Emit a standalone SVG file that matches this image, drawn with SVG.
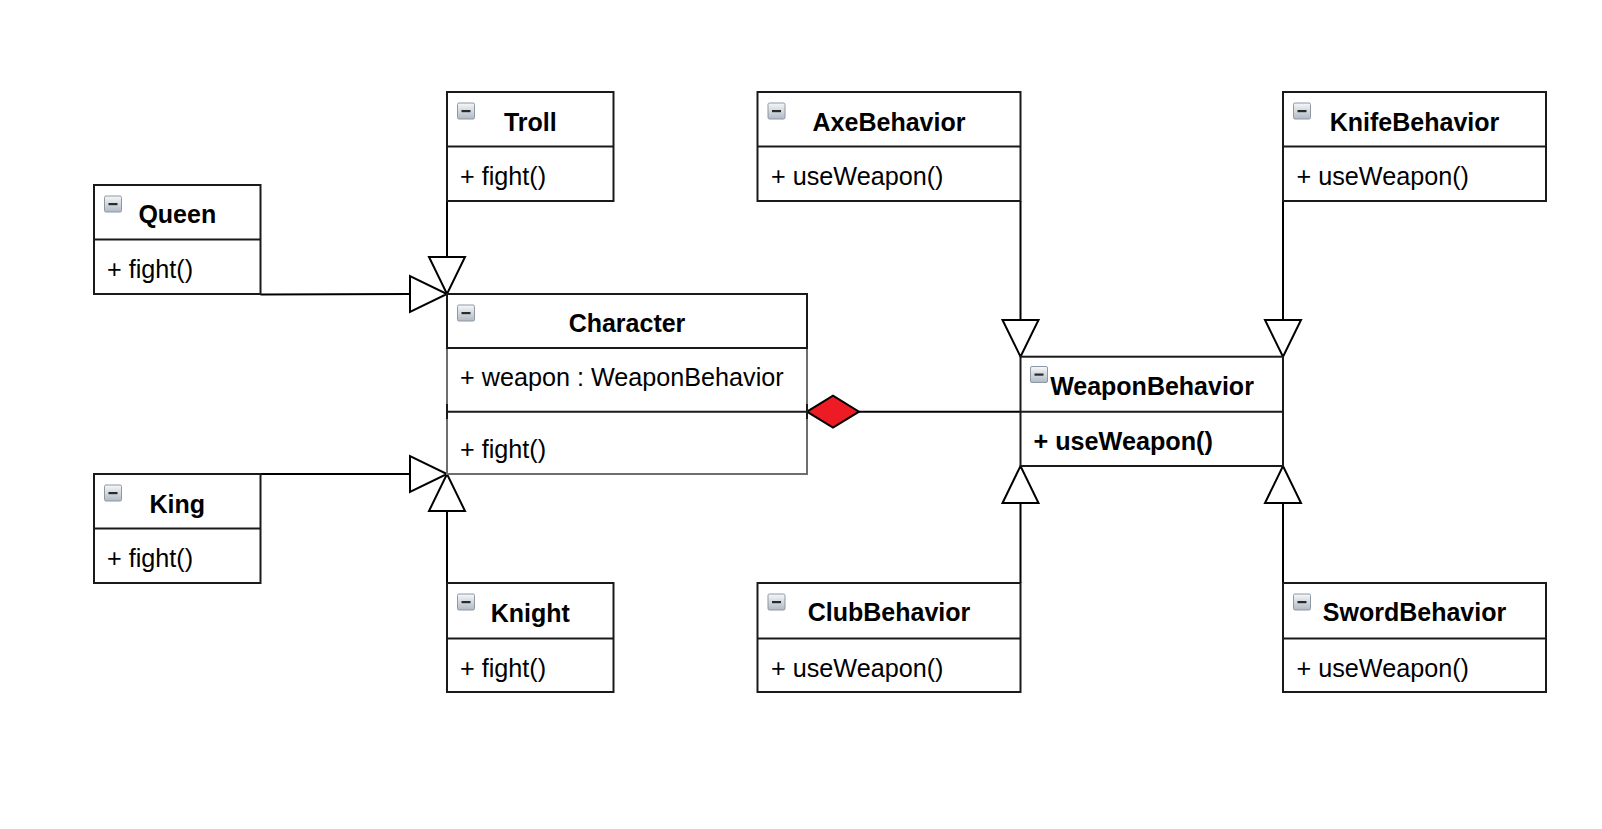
<svg xmlns="http://www.w3.org/2000/svg" width="1602" height="829" viewBox="0 0 1602 829">
<style>
  .box { fill: #ffffff; stroke: #1a1a1a; stroke-width: 2; }
  .sep { stroke: #1a1a1a; stroke-width: 2; }
  .title { font-family: "Liberation Sans", Arial, sans-serif; font-size: 25px; font-weight: bold; fill: #000; text-anchor: middle; }
  .member { font-family: "Liberation Sans", Arial, sans-serif; font-size: 25.2px; fill: #000; }
  .bmember { font-family: "Liberation Sans", Arial, sans-serif; font-size: 25.2px; font-weight: bold; fill: #000; }
  .edge { fill: none; stroke: #000; stroke-width: 2; }
  .tri { fill: #ffffff; stroke: #000; stroke-width: 2; stroke-linejoin: miter; }
  .gray { fill: #ffffff; stroke: #6e6e6e; stroke-width: 2; }
</style>
<defs>
  <linearGradient id="ig" x1="0" y1="0" x2="0" y2="1">
    <stop offset="0" stop-color="#f6f8fa"/>
    <stop offset="1" stop-color="#b0b9c3"/>
  </linearGradient>
  <g id="icon">
    <rect x="0.5" y="0.5" width="17" height="16" rx="1.5" fill="url(#ig)" stroke="#8c98a4" stroke-width="1"/>
    <rect x="4.5" y="7.5" width="9" height="2.2" fill="#2a2a2a"/>
  </g>
</defs>
<rect width="1602" height="829" fill="#ffffff"/>

<g id="connectors">
  <line class="edge" x1="447" y1="201" x2="447" y2="257"/>
  <polygon class="tri" points="429,257 465,257 447,294"/>
  <line class="edge" x1="260.5" y1="294.5" x2="410" y2="294"/>
  <polygon class="tri" points="410,276 410,312 447,294"/>
  <line class="edge" x1="260.5" y1="474" x2="410" y2="474"/>
  <polygon class="tri" points="410,456 410,492 447,474"/>
  <line class="edge" x1="447" y1="583" x2="447" y2="511"/>
  <polygon class="tri" points="429,511 465,511 447,474"/>
  <line class="edge" x1="1020.5" y1="201" x2="1020.5" y2="320"/>
  <polygon class="tri" points="1002.5,320 1038.5,320 1020.5,356.7"/>
  <line class="edge" x1="1283" y1="201" x2="1283" y2="320"/>
  <polygon class="tri" points="1265,320 1301,320 1283,356.7"/>
  <line class="edge" x1="1020.5" y1="583" x2="1020.5" y2="503"/>
  <polygon class="tri" points="1002.5,503 1038.5,503 1020.5,466"/>
  <line class="edge" x1="1283" y1="583" x2="1283" y2="503"/>
  <polygon class="tri" points="1265,503 1301,503 1283,466"/>
  <line class="edge" x1="859" y1="411.7" x2="1020.5" y2="411.7"/>
  <polygon points="807,411.7 833,395.7 859,411.7 833,427.7" fill="#ed1c24" stroke="#000" stroke-width="2"/>
</g>

<g id="Troll">
  <rect class="box" x="447" y="92" width="166.5" height="109"/>
  <line class="sep" x1="447" y1="146.5" x2="613.5" y2="146.5"/>
  <use href="#icon" x="457" y="102.5"/>
  <text class="title" x="530.3" y="130.7">Troll</text>
  <text class="member" x="460" y="185">+ fight()</text>
</g>

<g id="Queen">
  <rect class="box" x="94" y="185" width="166.5" height="109"/>
  <line class="sep" x1="94" y1="239.5" x2="260.5" y2="239.5"/>
  <use href="#icon" x="104" y="195.5"/>
  <text class="title" x="177.3" y="223">Queen</text>
  <text class="member" x="107" y="278">+ fight()</text>
</g>

<g id="Character">
  <rect class="gray" x="447" y="294" width="360" height="180"/>
  <rect class="box" x="447" y="294" width="360" height="54"/>
  <line class="sep" x1="447" y1="411.7" x2="807" y2="411.7"/>
  <line class="sep" x1="447" y1="404" x2="447" y2="419"/>
  <line class="sep" x1="807" y1="404" x2="807" y2="419"/>
  <use href="#icon" x="457" y="304.5"/>
  <text class="title" x="627" y="332.3">Character</text>
  <text class="member" x="460" y="386">+ weapon : WeaponBehavior</text>
  <text class="member" x="460" y="458.3">+ fight()</text>
</g>

<g id="King">
  <rect class="box" x="94" y="474" width="166.5" height="109"/>
  <line class="sep" x1="94" y1="528.5" x2="260.5" y2="528.5"/>
  <use href="#icon" x="104" y="484.5"/>
  <text class="title" x="177.3" y="512.5">King</text>
  <text class="member" x="107" y="567">+ fight()</text>
</g>

<g id="Knight">
  <rect class="box" x="447" y="583" width="166.5" height="109"/>
  <line class="sep" x1="447" y1="638.5" x2="613.5" y2="638.5"/>
  <use href="#icon" x="457" y="593.5"/>
  <text class="title" x="530.3" y="621.5">Knight</text>
  <text class="member" x="460" y="677">+ fight()</text>
</g>

<g id="AxeBehavior">
  <rect class="box" x="757.5" y="92" width="263" height="109"/>
  <line class="sep" x1="757.5" y1="146.5" x2="1020.5" y2="146.5"/>
  <use href="#icon" x="767.5" y="102.5"/>
  <text class="title" x="889" y="130.7">AxeBehavior</text>
  <text class="member" x="771" y="185">+ useWeapon()</text>
</g>

<g id="KnifeBehavior">
  <rect class="box" x="1283" y="92" width="263" height="109"/>
  <line class="sep" x1="1283" y1="146.5" x2="1546" y2="146.5"/>
  <use href="#icon" x="1293" y="102.5"/>
  <text class="title" x="1414.5" y="130.7">KnifeBehavior</text>
  <text class="member" x="1296.5" y="185">+ useWeapon()</text>
</g>

<g id="WeaponBehavior">
  <rect class="box" x="1020.5" y="356.7" width="262.5" height="109.3"/>
  <line class="sep" x1="1020.5" y1="411.7" x2="1283" y2="411.7"/>
  <use href="#icon" x="1030" y="366"/>
  <text class="title" x="1152" y="394.5">WeaponBehavior</text>
  <text class="bmember" x="1033.5" y="450">+ useWeapon()</text>
</g>

<g id="ClubBehavior">
  <rect class="box" x="757.5" y="583" width="263" height="109"/>
  <line class="sep" x1="757.5" y1="638.5" x2="1020.5" y2="638.5"/>
  <use href="#icon" x="767.5" y="593.5"/>
  <text class="title" x="889" y="621">ClubBehavior</text>
  <text class="member" x="771" y="677">+ useWeapon()</text>
</g>

<g id="SwordBehavior">
  <rect class="box" x="1283" y="583" width="263" height="109"/>
  <line class="sep" x1="1283" y1="638.5" x2="1546" y2="638.5"/>
  <use href="#icon" x="1293" y="593.5"/>
  <text class="title" x="1414.5" y="621">SwordBehavior</text>
  <text class="member" x="1296.5" y="677">+ useWeapon()</text>
</g>
</svg>
